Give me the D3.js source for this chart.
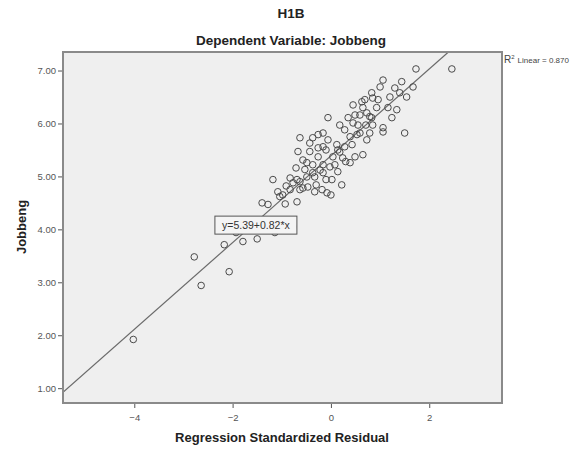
<!DOCTYPE html>
<html>
<head>
<meta charset="utf-8">
<script src="https://cdn.jsdelivr.net/npm/d3@7"></script>
<style>
  body { margin: 0; background: #fff; }
  svg { display: block; font-family: "Liberation Sans", Arial, sans-serif; }
</style>
</head>
<body>
<svg id="chart" width="586" height="455"></svg>
<script>
// Standardized residuals (x) against observed Jobbeng scores (y)
const residuals = [
  -4.02, -2.78, -2.64, -2.07, -2.17, -1.79, -1.50, -1.14, -1.93, -0.77,
  -1.18, -1.08, -0.93, -0.69, -1.40, -1.28, -0.83, -0.63, -0.47, -0.33,
  -0.18, -0.49, -0.63, -0.37, -0.08, 0.00, -0.63, -0.37, -0.16, -0.26,
  -0.67, -0.43, -0.16, -0.69, -0.49, -0.37, -0.26, -0.16, -0.02, 0.02,
  -0.57, -0.77, 0.14, 0.28, 0.43, 0.24, 0.49, 0.39, 0.53, 0.65,
  0.73, 0.39, 1.06, -0.33, -0.16, -0.06, 0.45, 0.63, 0.83, 0.49,
  0.73, 0.45, 0.59, 0.79, 0.83, 0.85, 1.06, 1.24, 1.34, 1.20,
  1.40, 1.54, 1.50, 0.93, 0.12, 0.04, 1.73, 2.46, 1.06, 1.00,
  1.44, 1.67, 0.69, 0.85, 0.65, 0.79, -0.22, -0.10, -0.30, 0.18,
  0.30, -0.10, -0.26, 0.55, 0.71, 0.28, 0.08, -0.53, -0.83, -0.98,
  0.59, -0.57, -0.71, -0.91, -1.04, 0.14, 0.22, -0.06, 0.18, 0.35,
  0.96, 1.16, 1.30, -0.43
];
const jobbeng = [
  1.92, 3.48, 2.94, 3.20, 3.71, 3.77, 3.82, 3.94, 3.94, 4.05,
  4.94, 4.71, 4.48, 4.52, 4.50, 4.47, 4.75, 4.75, 4.80, 4.71,
  4.75, 4.99, 4.90, 5.07, 4.69, 4.65, 5.73, 5.73, 5.82, 5.79,
  5.47, 5.47, 5.56, 4.94, 5.26, 5.22, 5.37, 5.22, 5.18, 4.94,
  4.78, 4.88, 5.50, 5.56, 5.60, 5.35, 5.37, 5.75, 5.79, 5.41,
  5.69, 5.26, 5.84, 4.99, 5.07, 6.11, 6.35, 6.41, 6.58, 6.16,
  6.20, 6.01, 5.82, 5.82, 6.11, 5.97, 5.92, 6.11, 6.26, 6.50,
  6.58, 6.50, 5.82, 6.30, 5.60, 5.37, 7.03, 7.03, 6.82, 6.69,
  6.79, 6.69, 6.45, 6.48, 6.30, 6.13, 5.12, 4.94, 4.84, 5.46,
  5.28, 5.50, 5.54, 5.97, 5.97, 5.88, 5.22, 5.13, 4.97, 4.65,
  6.16, 5.31, 5.16, 4.82, 4.62, 5.09, 4.84, 5.69, 5.97, 6.11,
  6.45, 6.30, 6.67, 5.63
];

// Axis ticks
const xTicks = [-4, -2, 0, 2];
const yTicks = [1, 2, 3, 4, 5, 6, 7];

// Fitted linear regression
const intercept = 5.39;
const slope = 0.82;
const rSquared = 0.870;

const title = "H1B";
const subtitle = "Dependent Variable: Jobbeng";
const xTitle = "Regression Standardized Residual";
const yTitle = "Jobbeng";

const svg = d3.select("#chart");
const plot = { left: 63, top: 52, right: 502, bottom: 403 };

const x = d3.scaleLinear().domain([-5.45, 3.48]).range([plot.left, plot.right]);
const y = d3.scaleLinear().domain([0.72, 7.35]).range([plot.bottom, plot.top]);

// Titles
svg.append("text").attr("x", 291).attr("y", 18).attr("text-anchor", "middle")
  .attr("font-size", 13.5).attr("font-weight", "bold").attr("fill", "#222").text(title);
svg.append("text").attr("x", 291).attr("y", 45).attr("text-anchor", "middle")
  .attr("font-size", 13.5).attr("font-weight", "bold").attr("fill", "#222").text(subtitle);

// Plot background
svg.append("rect")
  .attr("x", plot.left).attr("y", plot.top)
  .attr("width", plot.right - plot.left).attr("height", plot.bottom - plot.top)
  .attr("fill", "#efefef");

svg.append("clipPath").attr("id", "plotclip").append("rect")
  .attr("x", plot.left).attr("y", plot.top)
  .attr("width", plot.right - plot.left).attr("height", plot.bottom - plot.top);

// Fit line
const xDom = x.domain();
const yDom = y.domain();
const xStart = Math.max(xDom[0], (yDom[0] - intercept) / slope);
const xEnd = Math.min(xDom[1], (yDom[1] - intercept) / slope);
svg.append("line")
  .attr("clip-path", "url(#plotclip)")
  .attr("x1", x(xStart)).attr("y1", y(intercept + slope * xStart))
  .attr("x2", x(xEnd)).attr("y2", y(intercept + slope * xEnd))
  .attr("stroke", "#6a6a6a").attr("stroke-width", 1.2);

// Points
const pts = residuals.map((r, i) => ({ r, v: jobbeng[i] }));
svg.append("g").selectAll("circle").data(pts).join("circle")
  .attr("cx", d => x(d.r)).attr("cy", d => y(d.v)).attr("r", 3.3)
  .attr("fill", "none").attr("stroke", "#4a4a4a").attr("stroke-width", 1);

// Frame
svg.append("rect")
  .attr("x", plot.left).attr("y", plot.top)
  .attr("width", plot.right - plot.left).attr("height", plot.bottom - plot.top)
  .attr("fill", "none").attr("stroke", "#8a8a8a").attr("stroke-width", 2);

// Axes
const xAxis = svg.append("g").attr("transform", `translate(0,${plot.bottom + 1})`)
  .call(d3.axisBottom(x).tickValues(xTicks).tickFormat(d3.format("d")).tickSize(4).tickSizeOuter(0));
const yAxis = svg.append("g").attr("transform", `translate(${plot.left - 1},0)`)
  .call(d3.axisLeft(y).tickValues(yTicks).tickFormat(d3.format(".2f")).tickSize(4).tickSizeOuter(0));
[xAxis, yAxis].forEach(a => {
  a.select(".domain").remove();
  a.selectAll(".tick line").attr("stroke", "#555");
  a.selectAll(".tick text").attr("fill", "#555").attr("font-size", 9.5)
    .attr("font-family", "Liberation Sans, Arial, sans-serif");
});
xAxis.selectAll(".tick text").attr("dy", "1.0em");
yAxis.selectAll(".tick text").attr("x", -6);

// Axis titles
svg.append("text").attr("x", 282).attr("y", 442).attr("text-anchor", "middle")
  .attr("font-size", 13).attr("font-weight", "bold").attr("fill", "#222").text(xTitle);
svg.append("text").attr("transform", "translate(26,227) rotate(-90)").attr("text-anchor", "middle")
  .attr("font-size", 13).attr("font-weight", "bold").attr("fill", "#222").text(yTitle);

// Fit equation label
const eqX = -2.36, eqY = 4.08;
const eq = svg.append("g");
eq.append("rect").attr("x", x(eqX)).attr("y", y(eqY) - 9).attr("width", 82).attr("height", 18)
  .attr("fill", "#f4f4f4").attr("stroke", "#555").attr("stroke-width", 1);
eq.append("text").attr("x", x(eqX) + 41).attr("y", y(eqY) + 3.5).attr("text-anchor", "middle")
  .attr("font-size", 10.5).attr("fill", "#333")
  .text(`y=${intercept.toFixed(2)}+${slope.toFixed(2)}*x`);

// R-squared label
const rt = svg.append("text").attr("x", 504).attr("y", 63).attr("font-size", 8).attr("fill", "#444");
rt.append("tspan").attr("font-size", 10).text("R");
rt.append("tspan").attr("dy", -4).attr("font-size", 6).text("2");
rt.append("tspan").attr("dy", 4).attr("dx", 3).text(`Linear = ${rSquared.toFixed(3)}`);
</script>
</body>
</html>
